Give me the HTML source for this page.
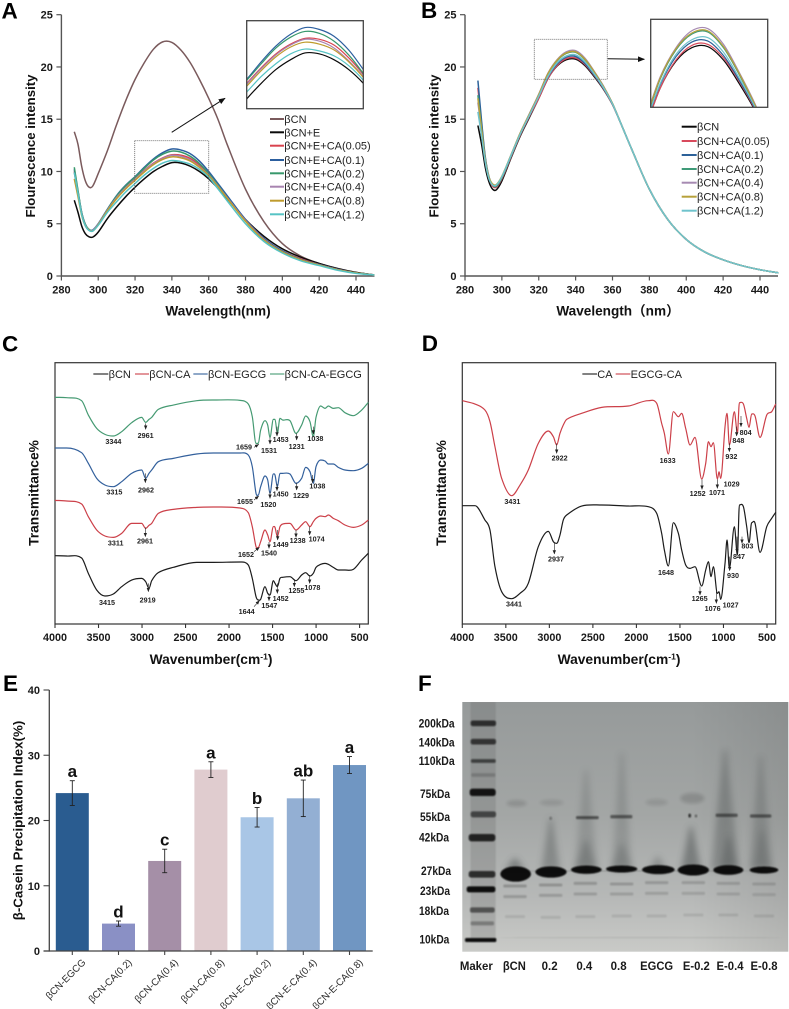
<!DOCTYPE html>
<html lang="en">
<head>
<meta charset="utf-8">
<title>Spectra and gel figure</title>
<style>
html,body{margin:0;padding:0;background:#fff;width:789px;height:1009px;overflow:hidden}
svg{display:block;font-family:"Liberation Sans","Noto Sans CJK SC",sans-serif}
</style>
</head>
<body>
<svg id="fig" xmlns="http://www.w3.org/2000/svg" width="789" height="1009" viewBox="0 0 789 1009">
<defs>
<filter id="b1" x="-30%" y="-150%" width="160%" height="400%"><feGaussianBlur stdDeviation="0.8"/></filter>
<filter id="b2" x="-30%" y="-100%" width="160%" height="300%"><feGaussianBlur stdDeviation="1.6"/></filter>
<filter id="b4" x="-50%" y="-50%" width="200%" height="200%"><feGaussianBlur stdDeviation="3.5"/></filter>
<linearGradient id="gelV" x1="0" y1="0" x2="0" y2="1">
<stop offset="0" stop-color="#969a9a"/><stop offset="0.45" stop-color="#a3a6a5"/><stop offset="0.78" stop-color="#b6b8b7"/><stop offset="1" stop-color="#c9cac7"/>
</linearGradient>
<linearGradient id="gelH" x1="0" y1="0" x2="1" y2="0">
<stop offset="0" stop-color="#000" stop-opacity="0"/><stop offset="0.7" stop-color="#000" stop-opacity="0"/><stop offset="1" stop-color="#000" stop-opacity="0.08"/>
</linearGradient>
<clipPath id="clipInsetA"><rect x="246.7" y="20.7" width="116.6" height="88"/></clipPath>
<clipPath id="clipInsetB"><rect x="650.7" y="19.3" width="117" height="88"/></clipPath>
<clipPath id="clipGel"><rect x="462.3" y="702" width="326" height="249.7"/></clipPath>
<marker id="ah" viewBox="0 0 10 10" refX="9" refY="5" markerWidth="7" markerHeight="7" orient="auto"><path d="M0 1 L10 5 L0 9 Z" fill="#111"/></marker>
<marker id="ahs" viewBox="0 0 10 10" refX="9" refY="5" markerWidth="7" markerHeight="7" orient="auto"><path d="M0 1 L10 5 L0 9 Z" fill="#222"/></marker>
</defs>
</svg>
<script>
// ---------- Panel A data ----------
const wavelengths=[287,289,291,293,295,297,300,305,310,315,320,325,330,335,340,345,350,355,360,365,370,380,390,400,410,420,430,440,450];
const aNames=['βCN','βCN+E','βCN+E+CA(0.05)','βCN+E+CA(0.1)','βCN+E+CA(0.2)','βCN+E+CA(0.4)','βCN+E+CA(0.8)','βCN+E+CA(1.2)'];
const aBcn=[13.8,12.6,10.5,9.1,8.5,8.6,9.8,12.0,14.5,16.8,18.8,20.4,21.7,22.4,22.35,21.6,20.4,18.8,17.0,15.0,12.6,8.3,5.2,3.1,1.9,1.2,0.7,0.35,0.1];
const aE=[7.25,6.1,4.8,4.05,3.75,3.72,4.2,5.5,6.6,7.6,8.5,9.3,10.0,10.5,10.85,10.8,10.5,10.0,9.3,8.4,7.4,5.4,3.8,2.6,1.8,1.2,0.72,0.35,0.1];
const aCa005=[10.0,8.0,6.0,4.85,4.4,4.35,4.95,6.35,7.5,8.5,9.3,10.1,10.8,11.3,11.6,11.55,11.25,10.6,9.75,8.7,7.6,5.4,3.6,2.4,1.65,1.1,0.65,0.3,0.1];
const aCa01=[10.2,8.1,6.1,4.95,4.45,4.4,5.0,6.4,7.7,8.7,9.5,10.4,11.2,11.8,12.15,12.05,11.7,11.0,10.0,8.85,7.7,5.4,3.6,2.4,1.6,1.1,0.65,0.3,0.1];
const aCa02=[10.4,8.2,6.1,4.95,4.45,4.35,4.95,6.35,7.65,8.65,9.45,10.3,11.1,11.65,11.95,11.85,11.45,10.75,9.8,8.7,7.5,5.25,3.45,2.3,1.55,1.05,0.6,0.3,0.1];
const aCa04=[9.9,7.9,5.95,4.85,4.4,4.35,4.95,6.3,7.5,8.45,9.25,10.05,10.75,11.25,11.55,11.45,11.1,10.45,9.65,8.6,7.5,5.3,3.5,2.3,1.55,1.05,0.6,0.3,0.1];
const aCa08=[9.3,7.6,5.8,4.8,4.4,4.3,4.9,6.25,7.4,8.35,9.15,9.95,10.65,11.15,11.4,11.3,11.0,10.4,9.6,8.55,7.45,5.25,3.45,2.3,1.55,1.05,0.6,0.3,0.1];
const aCa12=[9.9,7.9,5.9,4.8,4.35,4.3,4.85,6.1,7.1,8.05,8.85,9.65,10.3,10.8,11.05,10.95,10.7,10.2,9.45,8.35,7.2,5.0,3.3,2.2,1.45,1.0,0.55,0.25,0.1];
const aValues=[aBcn,aE,aCa005,aCa01,aCa02,aCa04,aCa08,aCa12];
// ---------- Panel B data ----------
const bNames=['βCN','βCN+CA(0.05)','βCN+CA(0.1)','βCN+CA(0.2)','βCN+CA(0.4)','βCN+CA(0.8)','βCN+CA(1.2)'];
const bBcn=[14.4,12.6,10.4,9.0,8.3,8.25,9.1,11.3,13.4,15.2,17.0,18.9,20.1,20.7,20.75,20.15,19.1,17.9,16.4,14.4,12.3,8.3,5.4,3.5,2.3,1.55,1.0,0.6,0.3];
const bCa005=[18.0,14.5,11.2,9.4,8.6,8.5,9.3,11.4,13.5,15.3,17.0,18.9,20.15,20.8,20.85,20.25,19.2,17.95,16.4,14.4,12.3,8.3,5.4,3.5,2.3,1.55,1.0,0.6,0.3];
const bCa01=[18.7,14.8,11.4,9.5,8.7,8.6,9.4,11.5,13.6,15.4,17.2,19.05,20.3,20.95,21.0,20.35,19.25,18.0,16.45,14.4,12.3,8.3,5.4,3.5,2.3,1.55,1.0,0.6,0.3];
const bCa02=[17.3,14.2,11.2,9.4,8.7,8.6,9.4,11.5,13.6,15.5,17.3,19.3,20.6,21.3,21.4,20.7,19.5,18.1,16.5,14.4,12.3,8.3,5.4,3.5,2.3,1.55,1.0,0.6,0.3];
const bCa04=[16.6,13.9,11.1,9.4,8.75,8.7,9.5,11.6,13.7,15.55,17.4,19.4,20.7,21.45,21.55,20.85,19.6,18.2,16.5,14.4,12.3,8.3,5.4,3.5,2.3,1.55,1.0,0.6,0.3];
const bCa08=[17.0,14.0,11.1,9.45,8.8,8.75,9.55,11.6,13.7,15.5,17.35,19.35,20.65,21.35,21.45,20.75,19.55,18.15,16.5,14.4,12.3,8.3,5.4,3.5,2.3,1.55,1.0,0.6,0.3];
const bCa12=[15.7,13.4,10.9,9.3,8.7,8.7,9.5,11.55,13.6,15.4,17.2,19.1,20.4,21.05,21.15,20.5,19.35,18.05,16.45,14.4,12.3,8.3,5.4,3.5,2.3,1.55,1.0,0.6,0.3];
const bValues=[bBcn,bCa005,bCa01,bCa02,bCa04,bCa08,bCa12];
const fluoXTicks=[280,300,320,340,360,380,400,420,440];
const fluoYTicks=[0,5,10,15,20,25];
// ---------- Panel C data ----------
const cWavenumbers=[4000,3866,3694,3617,3521,3426,3330,3234,3119,3004,2958,2920,2889,2813,2640,2372,2181,1874,1779,1733,1690,1664,1637,1587,1556,1530,1491,1472,1445,1415,1384,1300,1231,1166,1120,1070,1032,1001,947,897,859,802,745,668,572,476,400];
const cNames=['βCN','βCN-CA','βCN-EGCG','βCN-CA-EGCG'];
const cBcn=[205,204,198,152,102,84,90,112,132,137,127,107,130,154,170,185,185,186,177,137,82,72,74,112,92,87,130,122,112,137,140,142,130,147,154,144,152,170,179,182,179,170,162,162,164,192,212];
const cCa=[371,369,360,322,282,264,260,272,302,302,287,296,302,332,344,350,351,348,334,292,232,230,247,282,267,247,292,290,262,292,300,302,282,297,307,292,307,317,324,322,327,317,310,297,290,297,312];
const cEgcg=[528,528,514,482,437,417,412,427,452,462,437,452,462,487,497,510,513,513,507,472,392,387,412,444,432,392,450,447,412,452,452,450,422,437,470,457,422,472,492,489,480,480,470,462,460,467,482];
const cCaEgcg=[680,679,670,627,587,569,564,577,604,620,605,614,620,644,657,670,672,671,660,622,542,542,582,610,597,560,614,614,572,617,612,610,572,597,624,607,562,620,654,647,654,647,649,634,625,642,665];
const cValues=[cBcn,cCa,cEgcg,cCaEgcg];
// ---------- Panel D data ----------
const dWavenumbers=[4000,3854,3740,3682,3625,3548,3433,3337,3242,3127,3012,2954,2916,2878,2840,2801,2629,2399,2093,1863,1767,1710,1679,1633,1576,1518,1480,1434,1384,1327,1250,1204,1173,1143,1116,1070,1051,1032,982,959,932,875,840,817,771,733,706,676,637,580,503,446,400];
const dNames=['CA','EGCG-CA'];
const dCa=[355,355,312,282,172,97,76,92,122,232,278,247,242,267,312,327,354,357,354,352,332,272,222,174,304,272,222,177,167,172,114,162,187,142,172,92,97,74,182,252,167,292,207,357,352,292,244,304,302,215,292,317,335];
const dEgcgCa=[670,660,642,607,532,437,385,417,462,542,579,562,537,572,597,614,632,650,654,670,662,602,572,510,637,622,632,587,537,560,435,482,547,532,544,435,457,437,592,632,537,637,572,664,660,617,590,630,624,560,627,637,660];
const dValues=[dCa,dEgcgCa];
const irTicks=[4000,3500,3000,2500,2000,1500,1000,500];
// ---------- Panel E data ----------
const eCategories=['βCN-EGCG','βCN-CA(0.2)','βCN-CA(0.4)','βCN-CA(0.8)','βCN-E-CA(0.2)','βCN-E-CA(0.4)','βCN-E-CA(0.8)'];
const eValues=[24.2,4.2,13.8,27.8,20.5,23.4,28.5];
const eErrors=[1.9,0.4,1.8,1.2,1.5,2.8,1.3];
const eLetters=['a','d','c','a','b','ab','a'];
const eYTicks=[0,10,20,30,40];

// ---------- helpers ----------
const svg=document.getElementById('fig');
const NS='http://www.w3.org/2000/svg';
function mk(parent,tag,attrs,name,text){
  const el=document.createElementNS(NS,tag);
  for(const k in attrs){el.setAttribute(k,attrs[k]);}
  
  
  if(text!==undefined){el.textContent=text;}
  parent.appendChild(el);
  return el;
}
function linear(d0,d1,r0,r1){return v=>r0+(v-d0)*(r1-r0)/(d1-d0);}
function curve(px,py,mono){
  const n=px.length,m=[];
  for(let i=0;i<n;i++){
    if(i===0){m[i]=(py[1]-py[0])/(px[1]-px[0]);}
    else if(i===n-1){m[i]=(py[n-1]-py[n-2])/(px[n-1]-px[n-2]);}
    else{
      m[i]=(py[i+1]-py[i-1])/(px[i+1]-px[i-1]);
      if(mono&&(py[i]-py[i-1])*(py[i+1]-py[i])<=0){m[i]=0;}
    }
  }
  let d='M'+px[0].toFixed(2)+' '+py[0].toFixed(2);
  for(let i=0;i<n-1;i++){
    const h=(px[i+1]-px[i])/3;
    d+='C'+(px[i]+h).toFixed(2)+' '+(py[i]+m[i]*h).toFixed(2)+' '+(px[i+1]-h).toFixed(2)+' '+(py[i+1]-m[i+1]*h).toFixed(2)+' '+px[i+1].toFixed(2)+' '+py[i+1].toFixed(2);
  }
  return d;
}
function txt(parent,x,y,s,size,weight,anchor,name,fill,extra){
  const a={x:x,y:y,'font-size':size,'font-weight':weight,'text-anchor':anchor,fill:fill||'#1a1a1a'};
  if(extra){for(const k in extra){a[k]=extra[k];}}
  return mk(parent,'text',a,name,s);
}
function vtitle(parent,x,y,s,size,name){
  return txt(parent,x,y,s,size,'bold','middle',name,'#111',{transform:'rotate(-90 '+x+' '+y+')'});
}
function letter(s,x,y){txt(svg,x,y,s,22.5,'bold','start','panel-label-'+s.toLowerCase(),'#000');}

// ---------- Panels A & B ----------
const aColors=['#7a5a5c','#0a0a0a','#d9434e','#2c5f9f','#38986c','#a884b0','#bf9b2d','#56c3c4'];
const bColors=['#0a0a0a','#d84a5c','#2c6199','#3f9a78','#a68ab2','#b7a13a','#6fc3cc'];
function fluoPanel(o){
  const g=mk(svg,'g',{},o.id);
  const sx=linear(280,440,o.x0,o.x440), sy=linear(0,25,276,14.7);
  mk(g,'line',{x1:o.x0,y1:276,x2:o.xEnd,y2:276,stroke:'#555','stroke-width':1.4},'x-axis');
  mk(g,'line',{x1:o.x0,y1:276.7,x2:o.x0,y2:14.7,stroke:'#555','stroke-width':1.4},'y-axis');
  fluoXTicks.forEach(t=>{
    mk(g,'line',{x1:sx(t),y1:276,x2:sx(t),y2:280.5,stroke:'#555','stroke-width':1.2},'x-tick-'+t);
    txt(g,sx(t),293.3,String(t),11,'bold','middle','x-tick-label-'+t);
  });
  fluoYTicks.forEach(t=>{
    mk(g,'line',{x1:o.x0-5,y1:sy(t),x2:o.x0,y2:sy(t),stroke:'#555','stroke-width':1.2},'y-tick-'+t);
    txt(g,o.x0-8.5,sy(t)+4,String(t),11,'bold','end','y-tick-label-'+t);
  });
  const px=wavelengths.map(sx);
  o.values.forEach((v,i)=>{
    mk(g,'path',{d:curve(px,v.map(sy)),fill:'none',stroke:o.colors[i],'stroke-width':1.5},'series-'+o.names[i]);
  });
  // zoom window
  const b=o.box;
  mk(g,'rect',{x:b[0],y:b[1],width:b[2],height:b[3],fill:'none',stroke:'#666','stroke-width':0.9,'stroke-dasharray':'1 1'},'zoom-window');
  // inset
  const r=o.inset;
  const ix=linear(o.ix[0],o.ix[1],r[0],r[0]+r[2]), iy=linear(o.iy[0],o.iy[1],r[1]+r[3],r[1]);
  const clip=mk(g,'g',{'clip-path':'url(#'+o.clip+')'},'inset-curves');
  const ipx=wavelengths.map(ix);
  o.values.forEach((v,i)=>{
    if(i===o.skip){return;}
    mk(clip,'path',{d:curve(ipx,v.map(iy)),fill:'none',stroke:o.colors[i],'stroke-width':1.2},'inset-series-'+o.names[i]);
  });
  mk(g,'rect',{x:r[0],y:r[1],width:r[2],height:r[3],fill:'none',stroke:'#444','stroke-width':1.3},'inset-frame');
  mk(g,'line',{x1:o.arrow[0],y1:o.arrow[1],x2:o.arrow[2],y2:o.arrow[3],stroke:'#111','stroke-width':1,'marker-end':'url(#ah)'},'zoom-arrow');
  // legend
  o.names.forEach((n,i)=>{
    const y=o.legendY[i];
    mk(g,'line',{x1:o.legX0,y1:y,x2:o.legX1,y2:y,stroke:o.colors[i],'stroke-width':2},'legend-line-'+n);
    txt(g,o.legX1+0.3,y+4,n,11,'normal','start','legend-entry-'+n,'#222');
  });
  return g;
}
const gA=fluoPanel({id:'panel-a',x0:61.4,x440:356,xEnd:374.5,values:aValues,colors:aColors,names:aNames,box:[134.7,140.7,74,52.6],inset:[246.7,20.7,116.6,88],clip:'clipInsetA',ix:[320,360],iy:[8,12.5],skip:0,arrow:[171.7,132.3,225,98.3],legX0:270,legX1:284,legendY:[119,132.3,145.7,160,173.3,186.7,200.7,214.3]});
txt(gA,218,315.7,'Wavelength(nm)',13.6,'bold','middle','x-axis-title','#111');
vtitle(gA,35,146,'Flourescence intensity',13.2,'y-axis-title');
letter('A',1.5,18.5);
const gB=fluoPanel({id:'panel-b',x0:465,x440:760,xEnd:778,values:bValues,colors:bColors,names:bNames,box:[534.3,39.3,73,40],inset:[650.7,19.3,117,88],clip:'clipInsetB',ix:[322,359],iy:[18.05,21.96],skip:-1,arrow:[607.7,58.7,644.3,59.3],legX0:681.7,legX1:696.7,legendY:[126.7,141,155,169,182.7,196.7,210.7]});
txt(gB,618,315.7,'Wavelength（nm）',13.6,'bold','middle','x-axis-title','#111');
vtitle(gB,438.5,146,'Flourescence intensity',13.2,'y-axis-title');
letter('B',421,18);

// ---------- Panels C & D ----------
const cColors=['#1c1c1c','#cc4049','#33609c','#459a72'];
const dColors=['#1c1c1c','#cc4049'];
function peak(g,ox,ref,s,tx,ty,ax,ay1,ay2,ax2){
  const X=z=>ox+z/3, Y=z=>330+z/3;
  txt(g,X(tx),Y(ty)+2.5,s,7.2,'bold','middle','peak-label-'+ref+'-'+s,'#222');
  if(ax!==undefined){
    const x2=ax2===undefined?ax:ax2;
    mk(g,'line',{x1:X(ax),y1:Y(ay1),x2:X(x2),y2:Y(ay2),stroke:'#222','stroke-width':0.6,'marker-end':'url(#ahs)'},'peak-arrow-'+ref+'-'+s);
  }
}
function irPanel(o){
  const g=mk(svg,'g',{},o.id);
  const sx=linear(4000,400,o.x0,o.x1), sy=linear(0,784,624,362.7);
  mk(g,'rect',{x:o.x0,y:362.7,width:o.x1-o.x0,height:261.3,fill:'none',stroke:'#333','stroke-width':1.2},'plot-frame');
  irTicks.forEach(t=>{
    mk(g,'line',{x1:sx(t),y1:624,x2:sx(t),y2:628,stroke:'#333','stroke-width':1.1},'x-tick-'+t);
    txt(g,sx(t),641,String(t),10.8,'bold','middle','x-tick-label-'+t);
  });
  const px=o.wn.map(sx);
  o.values.forEach((v,i)=>{
    mk(g,'path',{d:curve(px,v.map(sy),true),fill:'none',stroke:o.colors[i],'stroke-width':1.2},'series-'+o.names[i]);
  });
  o.legend.forEach((L,i)=>{
    const y=330+132/3;
    mk(g,'line',{x1:o.ox+L[0]/3,y1:y,x2:o.ox+L[1]/3,y2:y,stroke:o.colors[i],'stroke-width':1.1},'legend-line-'+o.names[i]);
    txt(g,o.ox+L[1]/3+0.3,y+4,o.names[i],11,'normal','start','legend-entry-'+o.names[i],'#222');
  });
  const t=txt(g,o.titleX,664,'Wavenumber(cm',13.8,'bold','middle','x-axis-title','#111');
  mk(t,'tspan',{dy:-4.5,'font-size':8.5},'x-axis-title-exponent','-1');
  mk(t,'tspan',{dy:4.5},'x-axis-title-close',')');
  vtitle(g,o.yTitleX,493,'Transmittance%',13.8,'y-axis-title');
  return g;
}
const gC=irPanel({id:'panel-c',ox:0,x0:55,x1:368.3,wn:cWavenumbers,values:cValues,colors:cColors,names:cNames,legend:[[280,325],[405,447],[580,623],[810,853]],titleX:211,yTitleX:38.5});
const gD=irPanel({id:'panel-d',ox:395,x0:462.3,x1:775.7,wn:dWavenumbers,values:dValues,colors:dColors,names:dNames,legend:[[562,606],[662,706]],titleX:619,yTitleX:446});
letter('C',2,351.7);
letter('D',421.7,351);
// panel C peak annotations
peak(gC,0,'ca-egcg','3344',340,334);
peak(gC,0,'ca-egcg','2961',437,317,437,280,298);
peak(gC,0,'ca-egcg','1659',732,351,762,352,343,776);
peak(gC,0,'ca-egcg','1531',807,361,810,322,342);
peak(gC,0,'ca-egcg','1453',842,329,831,290,318);
peak(gC,0,'ca-egcg','1231',890,350,890,310,330);
peak(gC,0,'ca-egcg','1038',946,326,940,290,312);
peak(gC,0,'egcg','3315',343,486);
peak(gC,0,'egcg','2962',438,480,436,430,458);
peak(gC,0,'egcg','1655',735,515,762,510,498,776);
peak(gC,0,'egcg','1520',805,523,810,485,505);
peak(gC,0,'egcg','1450',842,492,831,462,482);
peak(gC,0,'egcg','1229',903,496,890,458,480);
peak(gC,0,'egcg','1038',952,468,938,435,458);
peak(gC,0,'ca','3311',347,639);
peak(gC,0,'ca','2961',435,633,436,592,620);
peak(gC,0,'ca','1652',738,674,762,665,652,778);
peak(gC,0,'ca','1540',807,669,807,636,655);
peak(gC,0,'ca','1449',842,644,833,600,630);
peak(gC,0,'ca','1238',893,632,888,600,622);
peak(gC,0,'ca','1074',950,627,929,590,615);
peak(gC,0,'bcn','3415',321,818);
peak(gC,0,'bcn','2919',443,810,445,760,785);
peak(gC,0,'bcn','1644',740,845,762,830,812,778);
peak(gC,0,'bcn','1547',808,826,807,790,812);
peak(gC,0,'bcn','1452',842,806,832,760,790);
peak(gC,0,'bcn','1255',889,782,883,748,770);
peak(gC,0,'bcn','1078',937,773,929,735,760);
// panel D peak annotations
peak(gD,395,'egcg-ca','3431',352,514);
peak(gD,395,'egcg-ca','2922',494,384,485,340,370);
peak(gD,395,'egcg-ca','1633',818,391);
peak(gD,395,'egcg-ca','1252',908,491,921,448,478);
peak(gD,395,'egcg-ca','1071',966,487,967,448,475);
peak(gD,395,'egcg-ca','1029',1010,462);
peak(gD,395,'egcg-ca','932',1009,379,1003,340,365);
peak(gD,395,'egcg-ca','848',1030,331,1025,290,318);
peak(gD,395,'egcg-ca','804',1052,308,1038,258,290);
peak(gD,395,'ca','3441',357,822);
peak(gD,395,'ca','2937',483,687,478,640,672);
peak(gD,395,'ca','1648',813,728);
peak(gD,395,'ca','1265',914,806,915,770,795);
peak(gD,395,'ca','1076',953,836,964,785,820);
peak(gD,395,'ca','1027',1007,825);
peak(gD,395,'ca','930',1014,736,1004,680,722);
peak(gD,395,'ca','847',1032,679,1026,620,668);
peak(gD,395,'ca','803',1057,648,1041,620,640);

// ---------- Panel E ----------
const eColors=['#2a5c90','#8a90c5','#a58fa7','#e0cccf','#a9c6e6','#93afd3','#7096c2'];
(function(){
  const g=mk(svg,'g',{},'panel-e');
  const sy=linear(0,40,951,690);
  const x0=72.3, step=46.2, bw=33;
  eCategories.forEach((c,i)=>{
    const cx=x0+i*step, v=eValues[i], e=eErrors[i];
    mk(g,'rect',{x:cx-bw/2,y:sy(v),width:bw,height:951-sy(v),fill:eColors[i]},'bar-'+c);
    mk(g,'line',{x1:cx,y1:sy(v+e),x2:cx,y2:sy(v-e),stroke:'#222','stroke-width':0.9},'error-bar-'+c);
    mk(g,'line',{x1:cx-2.5,y1:sy(v+e),x2:cx+2.5,y2:sy(v+e),stroke:'#222','stroke-width':0.9},'error-cap-top-'+c);
    mk(g,'line',{x1:cx-2.5,y1:sy(v-e),x2:cx+2.5,y2:sy(v-e),stroke:'#222','stroke-width':0.9},'error-cap-bottom-'+c);
    txt(g,cx,sy(v+e)-3.5,eLetters[i],17,'bold','middle','significance-letter-'+c,'#111');
    mk(g,'line',{x1:cx,y1:951,x2:cx,y2:955,stroke:'#444','stroke-width':1.1},'x-tick-'+c);
    const lx=cx+14, ly=963;
    txt(g,lx,ly,c,9.8,'normal','end','x-tick-label-'+c,'#2a2a2a',{transform:'rotate(-45 '+lx+' '+ly+')'});
  });
  mk(g,'line',{x1:43.5,y1:951,x2:372.7,y2:951,stroke:'#444','stroke-width':1.3},'x-axis');
  mk(g,'line',{x1:49.3,y1:951.6,x2:49.3,y2:690,stroke:'#444','stroke-width':1.3},'y-axis');
  eYTicks.forEach(t=>{
    mk(g,'line',{x1:43.5,y1:sy(t),x2:49.3,y2:sy(t),stroke:'#444','stroke-width':1.1},'y-tick-'+t);
    txt(g,40,sy(t)+4,String(t),11,'bold','end','y-tick-label-'+t);
  });
  vtitle(g,22.5,820.5,'β-Casein Precipitation Index(%)',13.3,'y-axis-title');
})();
letter('E',3,691);

// ---------- Panel F (gel) ----------
(function(){
  const g=mk(svg,'g',{},'panel-f');
  mk(g,'rect',{x:462.3,y:702,width:326,height:249.7,fill:'url(#gelV)'},'gel-background');
  mk(g,'rect',{x:462.3,y:702,width:326,height:249.7,fill:'url(#gelH)'},'gel-edge-shade');
  const c=mk(g,'g',{'clip-path':'url(#clipGel)'},'gel-bands');
  const X=z=>400+z/3, Y=z=>670+z/3;
  function band(name,zx,zy,w,h,op,f,fill){
    mk(c,'ellipse',{cx:X(zx),cy:Y(zy),rx:w/6,ry:h/6,fill:fill||'#0c0c0c',opacity:op,filter:'url(#'+f+')'},name);
  }
  function bar(name,zx,zy,w,h,op,f){
    mk(c,'rect',{x:X(zx-w/2),y:Y(zy-h/2),width:w/3,height:h/3,rx:h/8,fill:'#0c0c0c',opacity:op,filter:'url(#'+f+')'},name);
  }
  function smear(name,zx,zTop,zBot,w,op){
    const d='M'+X(zx-4)+' '+Y(zTop)+'L'+X(zx+4)+' '+Y(zTop)+'L'+X(zx+w/2)+' '+Y(zBot)+'L'+X(zx-w/2)+' '+Y(zBot)+'Z';
    mk(c,'path',{d:d,fill:'#3a4040',opacity:op,filter:'url(#b4)'},name);
  }
  // marker lane
  mk(c,'rect',{x:X(212),y:702,width:25,height:240,fill:'#555',opacity:0.2,filter:'url(#b1)'},'marker-lane-shade');
  bar('marker-200kda',250,160,76,17,0.75,'b1');
  bar('marker-140kda',250,215,76,17,0.7,'b1');
  bar('marker-110kda',250,273,74,11,0.62,'b1');
  bar('marker-faint',250,315,72,11,0.18,'b1');
  bar('marker-75kda',248,367,78,22,0.95,'b1');
  bar('marker-55kda',250,433,76,18,0.6,'b1');
  bar('marker-42kda',246,503,80,22,0.85,'b1');
  bar('marker-27kda',246,613,80,20,0.78,'b1');
  bar('marker-23kda',243,658,86,18,1,'b1');
  bar('marker-18kda',247,720,74,16,0.55,'b1');
  bar('marker-14kda',247,760,70,12,0.3,'b1');
  bar('marker-10kda',242,810,94,12,1,'b1');
  // smears
  smear('smear-0-2',452,445,600,56,0.34);
  smear('smear-0-4',558,300,600,70,0.2);
  smear('smear-0-4-low',558,510,595,60,0.3);
  smear('smear-0-8',665,250,600,60,0.2);
  smear('smear-0-8-low',665,520,595,60,0.25);
  smear('smear-e-0-2',873,470,600,60,0.45);
  smear('smear-e-0-4',975,240,600,85,0.32);
  smear('smear-e-0-4-low',985,500,595,50,0.3);
  smear('smear-e-0-8',1082,260,600,70,0.24);
  smear('smear-e-0-8-low',1085,480,595,50,0.25);
  smear('smear-bcn',345,565,600,60,0.45);
  smear('smear-egcg',773,560,600,50,0.3);
  // 67 kDa diffuse bands
  band('band-67kda-bcn',350,400,60,20,0.13,'b2');
  band('band-67kda-0-2',455,398,70,18,0.1,'b2');
  band('band-67kda-egcg',770,397,66,20,0.1,'b2');
  band('band-67kda-e-0-2',877,385,72,32,0.15,'b2');
  // 55 kDa bands
  bar('band-55kda-0-4',562,443,68,9,0.55,'b1');
  bar('band-55kda-0-8',664,440,66,10,0.5,'b1');
  bar('band-55kda-e-0-4',980,436,66,10,0.5,'b1');
  bar('band-55kda-e-0-8',1082,438,64,10,0.5,'b1');
  band('spot-e-0-2-a',869,437,8,12,0.75,'b1');
  band('spot-e-0-2-b',888,438,7,9,0.45,'b1');
  band('spot-0-2',452,445,8,10,0.3,'b1');
  // main 27 kDa bands
  band('band-27kda-bcn',347,612,92,46,1,'b1');
  band('band-27kda-0-2',453,606,94,34,1,'b1');
  band('band-27kda-0-4',559,599,92,25,1,'b1');
  band('band-27kda-0-8',665,597,94,21,1,'b1');
  band('band-27kda-egcg',775,599,98,27,1,'b1');
  band('band-27kda-e-0-2',880,600,94,33,1,'b1');
  band('band-27kda-e-0-4',985,600,90,29,1,'b1');
  band('band-27kda-e-0-8',1092,600,86,21,1,'b1');
  band('faint-line-27kda',700,603,780,2,0.3,'b1');
  // lower faint bands
  [[345,648,680,740],[452,645,676,742],[556,640,672,740],[665,642,672,738],[770,638,670,738],[880,638,670,735],[985,640,672,735],[1092,642,674,738]].forEach((L,i)=>{
    bar('lower-band-a-lane-'+i,L[0],L[1],70,9,0.22-0.012*i,'b1');
    bar('lower-band-b-lane-'+i,L[0],L[2],70,9,0.18-0.01*i,'b1');
    bar('lower-band-c-lane-'+i,L[0],L[3],60,9,0.09,'b1');
  });
  band('dye-front',720,803,860,3,0.1,'b1');
  // size labels
  [['200kDa',110,160,36],['140kDa',110,217,36],['110kDa',110,273,36],['75kDa',105,372,30],['55kDa',105,440,30],['42kDa',102,502,30],['27kDa',108,603,30],['23kDa',105,663,30],['18kDa',102,723,30],['10kDa',103,808,30]].forEach(L=>{
    txt(g,X(L[1]),Y(L[2])+4.2,L[0],11.5,'bold','middle','size-label-'+L[0],'#1a1a1a',{textLength:L[3],lengthAdjust:'spacingAndGlyphs'});
  });
  [['Maker',229,33],['βCN',343,23],['0.2',449,16],['0.4',553,16],['0.8',656,16],['EGCG',770,33],['E-0.2',889,27],['E-0.4',990,27],['E-0.8',1092,27]].forEach(L=>{
    txt(g,X(L[1]),Y(887)+4.5,L[0],12,'bold','middle','lane-label-'+L[0],'#1a1a1a',{textLength:L[2],lengthAdjust:'spacingAndGlyphs'});
  });
})();
letter('F',418,691);
</script>
</body>
</html>
